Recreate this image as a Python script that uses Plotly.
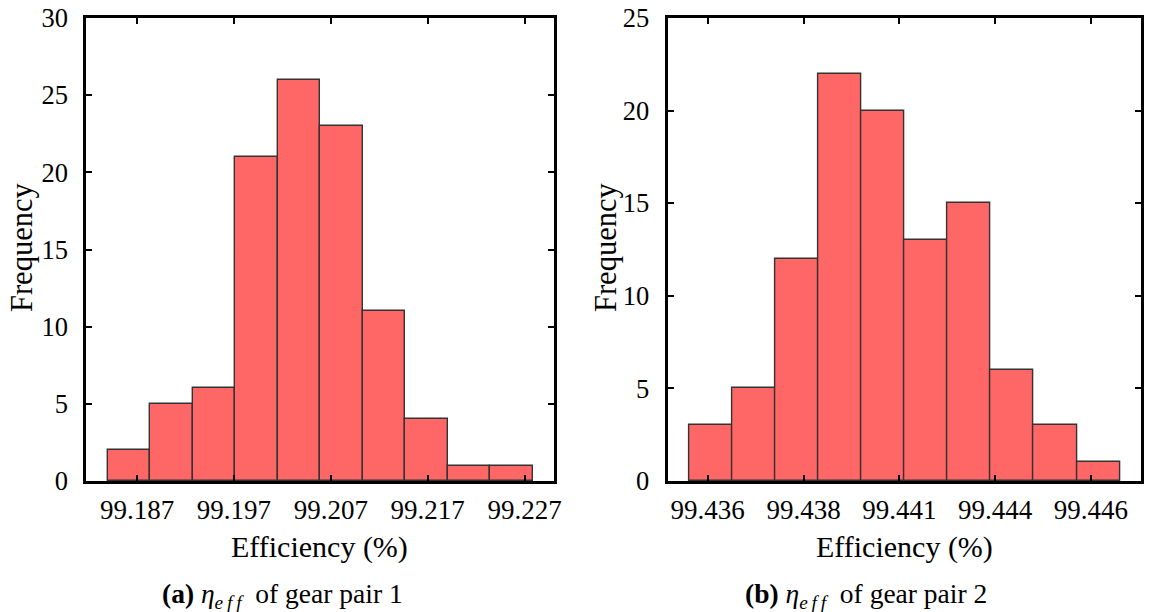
import plotly.graph_objects as go

# Histogram of gear pair 1 efficiency
bin_start_1 = 99.18397
bin_width_1 = 0.004389
counts_1 = [2, 5, 6, 21, 26, 23, 11, 4, 1, 1]
xtick_vals_1 = [99.187, 99.197, 99.207, 99.217, 99.227]
xtick_text_1 = ["99.187", "99.197", "99.207", "99.217", "99.227"]

# Histogram of gear pair 2 efficiency
bin_start_2 = 99.435509
bin_width_2 = 0.0011248
counts_2 = [3, 5, 12, 22, 20, 13, 15, 6, 3, 1]
xtick_vals_2 = [99.436, 99.4385, 99.441, 99.4435, 99.446]
xtick_text_2 = ["99.436", "99.438", "99.441", "99.444", "99.446"]

W, H = 1151, 612
TOP, BOTTOM = 18, 481
FONT = "Liberation Serif"
BAR_FILL = "#FF6666"
BAR_EDGE = "#333333"


def centers(start, width, n):
    return [start + width * (i + 0.5) for i in range(n)]


fig = go.Figure()
fig.add_trace(go.Bar(
    x=centers(bin_start_1, bin_width_1, len(counts_1)), y=counts_1,
    width=bin_width_1, marker=dict(color=BAR_FILL, line=dict(color=BAR_EDGE, width=1.4)),
    xaxis="x", yaxis="y", showlegend=False,
))
fig.add_trace(go.Bar(
    x=centers(bin_start_2, bin_width_2, len(counts_2)), y=counts_2,
    width=bin_width_2, marker=dict(color=BAR_FILL, line=dict(color=BAR_EDGE, width=1.4)),
    xaxis="x2", yaxis="y2", showlegend=False,
))

axis_common = dict(
    showline=True, linecolor="black", linewidth=2.5, mirror="ticks",
    ticks="inside", ticklen=6, tickwidth=2, tickcolor="black",
    showgrid=False, zeroline=False, automargin=False,
)
xfont = dict(family=FONT, size=27, color="black")
yfont = dict(family=FONT, size=26.5, color="black")

x1_dom = [86 / W, 553.5 / W]
x2_dom = [668.3 / W, 1141 / W]

fig.update_layout(
    template="none",
    width=W, height=H, autosize=False,
    margin=dict(l=0, r=0, t=TOP, b=H - BOTTOM, pad=0, autoexpand=False),
    paper_bgcolor="white", plot_bgcolor="white",
    bargap=0,
    xaxis=dict(domain=x1_dom, range=[99.18173, 99.22999], anchor="y", tickfont=xfont,
               tickvals=xtick_vals_1, ticktext=xtick_text_1, ticklabelstandoff=3, **axis_common),
    yaxis=dict(domain=[0, 1], range=[0, 30], dtick=5, anchor="x", tickfont=yfont,
               ticklabelstandoff=10, **axis_common),
    xaxis2=dict(domain=x2_dom, range=[99.434972, 99.447307], anchor="y2", tickfont=xfont,
                tickvals=xtick_vals_2, ticktext=xtick_text_2, ticklabelstandoff=3, **axis_common),
    yaxis2=dict(domain=[0, 1], range=[0, 25], dtick=5, anchor="x2", tickfont=yfont,
                ticklabelstandoff=11, **axis_common),
)

xtitle_font = dict(family=FONT, size=30, color="black")
ytitle_font = dict(family=FONT, size=30.5, color="black")
caption_font = dict(family=FONT, size=27.5, color="black")


def px_x(p):
    return p / W


def px_y(p):
    # paper y is measured over the plotting band between TOP and BOTTOM
    return (BOTTOM - p) / (BOTTOM - TOP)


eta = "<i>η</i><sub><i>e\u2009f\u2009f</i></sub>"
annotations = [
    # x-axis titles
    dict(text="Efficiency (%)", x=px_x(319), y=px_y(547), font=xtitle_font),
    dict(text="Efficiency (%)", x=px_x(904), y=px_y(547), font=xtitle_font),
    # y-axis titles
    dict(text="Frequency", x=px_x(22), y=px_y(248), font=ytitle_font, textangle=-90),
    dict(text="Frequency", x=px_x(606), y=px_y(248), font=ytitle_font, textangle=-90),
    # sub-figure captions
    dict(text=f"<b>(a)</b> {eta}  of gear pair 1", x=px_x(282.5), y=px_y(595), font=caption_font),
    dict(text=f"<b>(b)</b> {eta}  of gear pair 2", x=px_x(866), y=px_y(595), font=caption_font),
]
for a in annotations:
    a.update(xref="paper", yref="paper", xanchor="center", yanchor="middle", showarrow=False)
fig.update_layout(annotations=annotations)

fig.write_html("out.html")
